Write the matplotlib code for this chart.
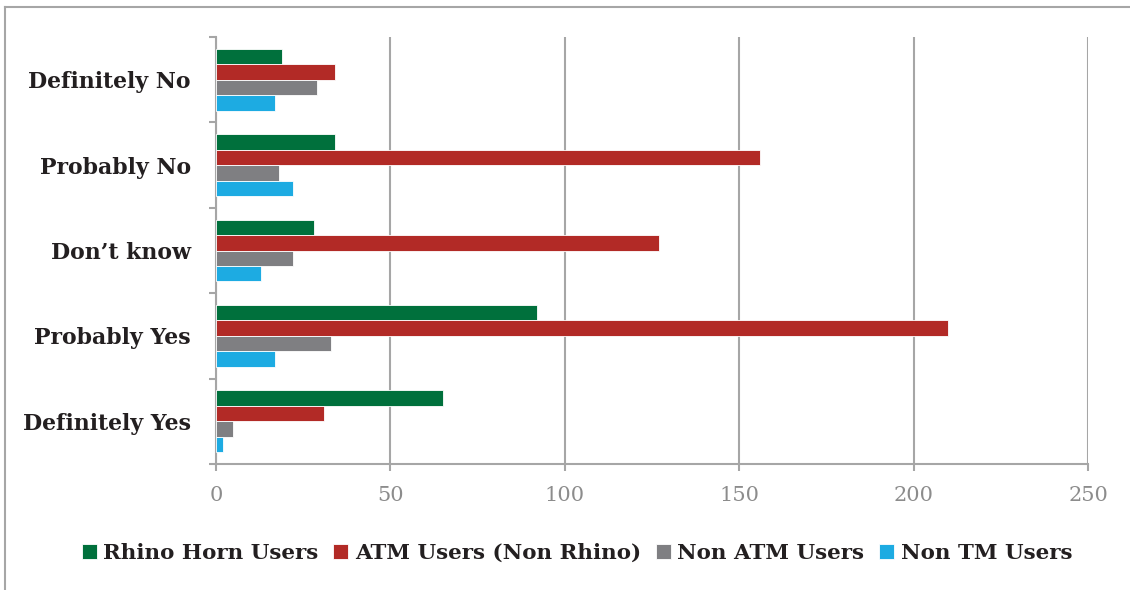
import matplotlib
matplotlib.use("Agg")
import matplotlib.pyplot as plt
import numpy as np
from matplotlib.lines import Line2D

categories = ["Definitely Yes", "Probably Yes", "Don\u2019t know", "Probably No", "Definitely No"]
series_names = ["Rhino Horn Users", "ATM Users (Non Rhino)", "Non ATM Users", "Non TM Users"]
rhino = [65, 92, 28, 34, 19]
atm = [31, 210, 127, 156, 34]
non_atm = [5, 33, 22, 18, 29]
non_tm = [2, 17, 13, 22, 17]
colors = ["#00703C", "#B22A26", "#7F7F82", "#1DABE2"]
xticks = [0, 50, 100, 150, 200, 250]

fig = plt.figure(figsize=(11.3, 5.9), dpi=100)
ax = fig.add_axes([216/1130, 1-464/590, 872/1130, 427/590])

y = np.arange(len(categories))
h = 0.181
data = [rhino, atm, non_atm, non_tm]
for i, (vals, c, name) in enumerate(zip(data, colors, series_names)):
    ax.barh(y + (1.5 - i) * h, vals, height=h, color=c, label=name,
            edgecolor="white", linewidth=0.6, zorder=3)

ax.set_xlim(0, 250)
ax.set_ylim(-0.5, len(categories) - 0.5)
ax.set_xticks(xticks)
ax.set_xticklabels([str(t) for t in xticks])
ax.set_yticks(y)
ax.set_yticklabels(categories)
ax.set_yticks(np.arange(-0.5, len(categories)), minor=True)
ax.tick_params(axis="y", which="major", length=0, pad=18)
ax.tick_params(axis="y", which="minor", length=5, width=1.5, color="#A6A6A6")
ax.tick_params(axis="x", which="major", length=5, width=1.5, color="#A6A6A6",
               pad=11, labelcolor="#8C8C8C", labelsize=15)
for lab in ax.get_xticklabels():
    lab.set_family("DejaVu Serif")
for lab in ax.get_yticklabels():
    lab.set_family("DejaVu Serif")
    lab.set_fontweight("bold")
    lab.set_fontsize(15.8)
    lab.set_color("#231F20")

ax.grid(axis="x", color="#A6A6A6", linewidth=1.5, zorder=0)
for s in ["top", "right"]:
    ax.spines[s].set_visible(False)
for s in ["left", "bottom"]:
    ax.spines[s].set_color("#A6A6A6")
    ax.spines[s].set_linewidth(1.5)

leg = fig.legend(loc="center", bbox_to_anchor=(577/1130, 1-553/590), ncol=4,
                 frameon=False, handlelength=0.7, handleheight=0.7,
                 handletextpad=0.3, columnspacing=0.7,
                 prop={"family": "DejaVu Serif", "weight": "bold", "size": 15.4})
for t in leg.get_texts():
    t.set_color("#231F20")

# outer border (top and left)
fig.add_artist(Line2D([5/1130, 1], [1-7/590, 1-7/590], transform=fig.transFigure,
                      color="#A6A6A6", linewidth=1.5))
fig.add_artist(Line2D([5/1130, 5/1130], [0, 1-7/590], transform=fig.transFigure,
                      color="#A6A6A6", linewidth=1.5))

fig.savefig("out.png", dpi=100, facecolor="white")
